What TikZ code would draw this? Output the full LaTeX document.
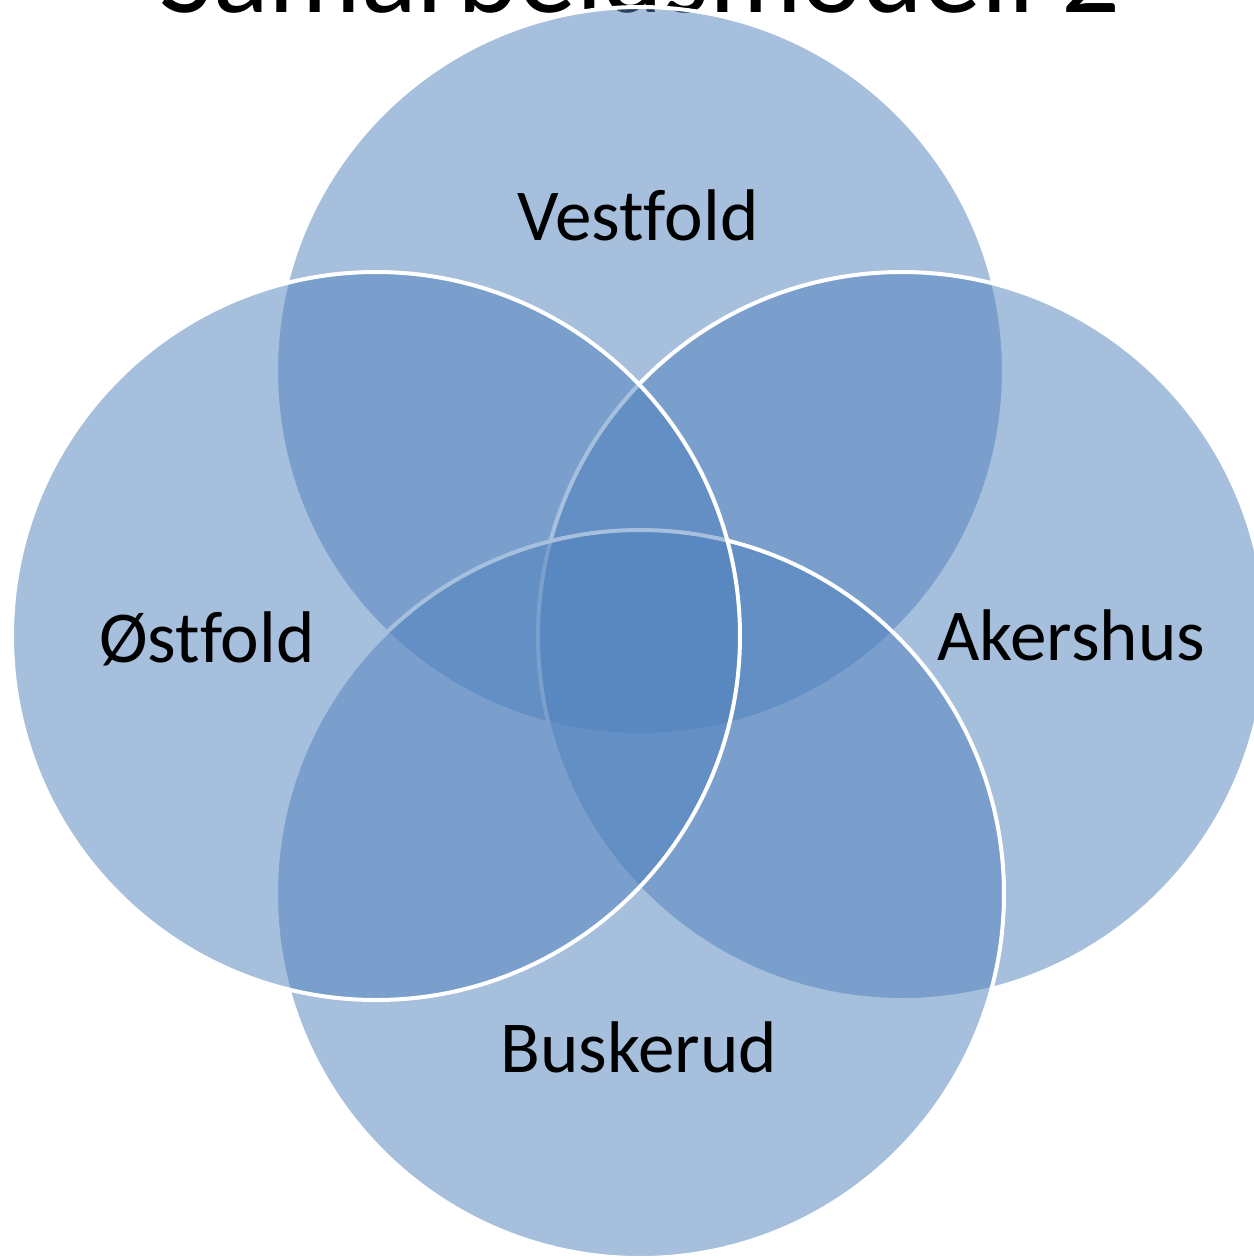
\documentclass[tikz,border=0pt]{standalone}
\usepackage{fontspec}
\setmainfont[Ligatures=NoCommon]{Carlito}
\definecolor{accent}{HTML}{4F81BD}
\begin{document}
\begin{tikzpicture}[x=0.01cm,y=-0.01cm,
  venn/.style={fill=accent,fill opacity=0.5,draw=white,draw opacity=1,line width=0.04cm},
  lbl/.style={anchor=base,inner sep=0pt,text=black,font=\fontsize{20.8pt}{25pt}\selectfont},
  ttl/.style={anchor=base,inner sep=0pt,text=black,font=\fontsize{33pt}{38pt}\selectfont}]
\clip (0,0) rectangle (1254,1259);
\fill[white] (0,0) rectangle (1254,1259);
\node[ttl] (title) at (640,12) {Samarbeidsmodell 2};
\path[venn] (640,371) circle[radius=364];
\path[venn] (902,636) circle[radius=364];
\path[venn] (640,894) circle[radius=364];
\path[venn] (376,636) circle[radius=364];
\node[lbl] (vestfold) at (638,240) {Vestfold};
\node[lbl] (ostfold) at (207,662) {Østfold};
\node[lbl] (akershus) at (1071,660) {Akershus};
\node[lbl] (buskerud) at (639,1072) {Buskerud};
\end{tikzpicture}
\end{document}
